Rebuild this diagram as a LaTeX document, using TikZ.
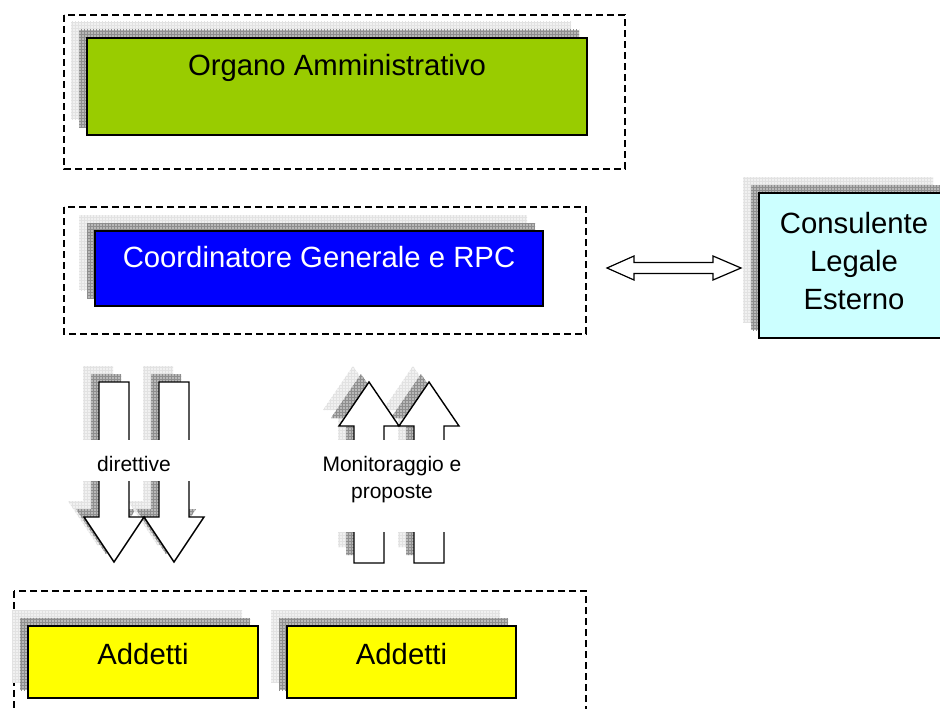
\documentclass[tikz,border=0pt]{standalone}
\usepackage{fontspec}
\setmainfont{Liberation Sans}
\usetikzlibrary{patterns}
\definecolor{orggreen}{HTML}{99CC00}
\definecolor{coordblue}{HTML}{0000FF}
\definecolor{consCyan}{HTML}{CCFFFF}
\definecolor{addYellow}{HTML}{FFFF00}
\definecolor{shLight}{HTML}{F1F1F1}
\definecolor{shLightGrid}{HTML}{E2E2E2}
\definecolor{shDark}{HTML}{B9B9B9}
\definecolor{shDarkGrid}{HTML}{8E8E8E}
\tikzset{
  lightsh/.style={fill=shLight, postaction={pattern=grid, pattern color=shLightGrid}},
  darksh/.style={fill=shDark, postaction={pattern=grid, pattern color=shDarkGrid}},
  box/.style={draw=black, line width=2pt, inner sep=0pt, outer sep=0pt, anchor=north west},
  groupbox/.style={draw=black, line width=1.4pt, dash pattern=on 7pt off 4pt},
  bigtext/.style={font=\fontsize{29.3}{35}\selectfont, anchor=base, inner sep=0pt},
  smalltext/.style={font=\fontsize{21}{25}\selectfont, anchor=base, inner sep=0pt},
  blockarrow/.style={draw=black, line width=1.4pt, fill=white, line join=miter},
}
\newcommand{\boxshadow}[4]{%
  \path[lightsh] ({#1-16},{#2-16}) rectangle ({#3-16},{#4-16});
  \path[darksh] ({#1-8},{#2-8}) rectangle ({#3-8},{#4-8});
}
\def\downpath{(-15,0) -- (15,0) -- (15,135) -- (30,135) -- (0,180) -- (-30,135) -- (-15,135) -- cycle}
\def\uppath{(0,0) -- (30,44) -- (15,44) -- (15,181) -- (-15,181) -- (-15,44) -- (-30,44) -- cycle}
\begin{document}
\begin{tikzpicture}[x=1pt,y=-1pt]
\useasboundingbox (0,0) rectangle (940,709);

% group frames
\draw[groupbox] (64,15) rectangle (625,169);
\draw[groupbox] (64,207) rectangle (586,334);
\draw[groupbox] (14,591) rectangle (586,740);

% Organo Amministrativo
\boxshadow{87}{38}{587}{135}
\node[box, fill=orggreen, minimum width=500pt, minimum height=97pt] (org) at (87,38) {};
\node[bigtext] (orgtext) at (337,76) {Organo Amministrativo};

% Coordinatore
\boxshadow{95}{231}{543}{306}
\node[box, fill=coordblue, minimum width=448pt, minimum height=75pt] (coord) at (95,231) {};
\node[bigtext, text=white] (coordtext) at (319,267) {Coordinatore Generale e RPC};

% Consulente
\boxshadow{759}{193}{949}{338}
\node[box, fill=consCyan, minimum width=190pt, minimum height=145pt] (cons) at (759,193) {};
\node[bigtext] (cons1) at (854,233) {Consulente};
\node[bigtext] (cons2) at (854,271) {Legale};
\node[bigtext] (cons3) at (854,309) {Esterno};

% double arrow
\coordinate (dl) at (607,268);
\coordinate (dr) at (741,268);
\draw[blockarrow, line width=1.2pt] (dl) -- (634,256) -- (634,262.5) -- (713,262.5) -- (713,256) -- (dr)
  -- (713,280) -- (713,273.5) -- (634,273.5) -- (634,280) -- cycle;

% Addetti
\boxshadow{28}{626}{258}{698}
\boxshadow{287}{626}{516}{698}
\node[box, fill=addYellow, minimum width=230pt, minimum height=72pt] (add1) at (28,626) {};
\node[box, fill=addYellow, minimum width=229pt, minimum height=72pt] (add2) at (287,626) {};
\node[bigtext] (add1text) at (143,664) {Addetti};
\node[bigtext] (add2text) at (401.5,664) {Addetti};

% down arrows (direttive)
\foreach \cx in {114,174}{
  \begin{scope}[shift={(\cx-16,366)}] \path[lightsh] \downpath; \end{scope}
  \begin{scope}[shift={(\cx-8,374)}] \path[darksh] \downpath; \end{scope}
}
\foreach \cx in {114,174}{
  \begin{scope}[shift={(\cx,382)}] \draw[blockarrow] \downpath; \end{scope}
}

% up arrows (monitoraggio)
\foreach \cx in {369,429}{
  \begin{scope}[shift={(\cx-16,366)}] \path[lightsh] \uppath; \end{scope}
  \begin{scope}[shift={(\cx-8,374)}] \path[darksh] \uppath; \end{scope}
}
\foreach \cx in {369,429}{
  \begin{scope}[shift={(\cx,382)}] \draw[blockarrow] \uppath; \end{scope}
}

% label gaps
\fill[white] (62,440) rectangle (212,481);
\fill[white] (318,440) rectangle (466,532);
\node[smalltext] (dirtext) at (134,471) {direttive};
\node[smalltext] (montext1) at (392,471) {Monitoraggio e};
\node[smalltext] (montext2) at (392,498) {proposte};
\end{tikzpicture}
\end{document}
